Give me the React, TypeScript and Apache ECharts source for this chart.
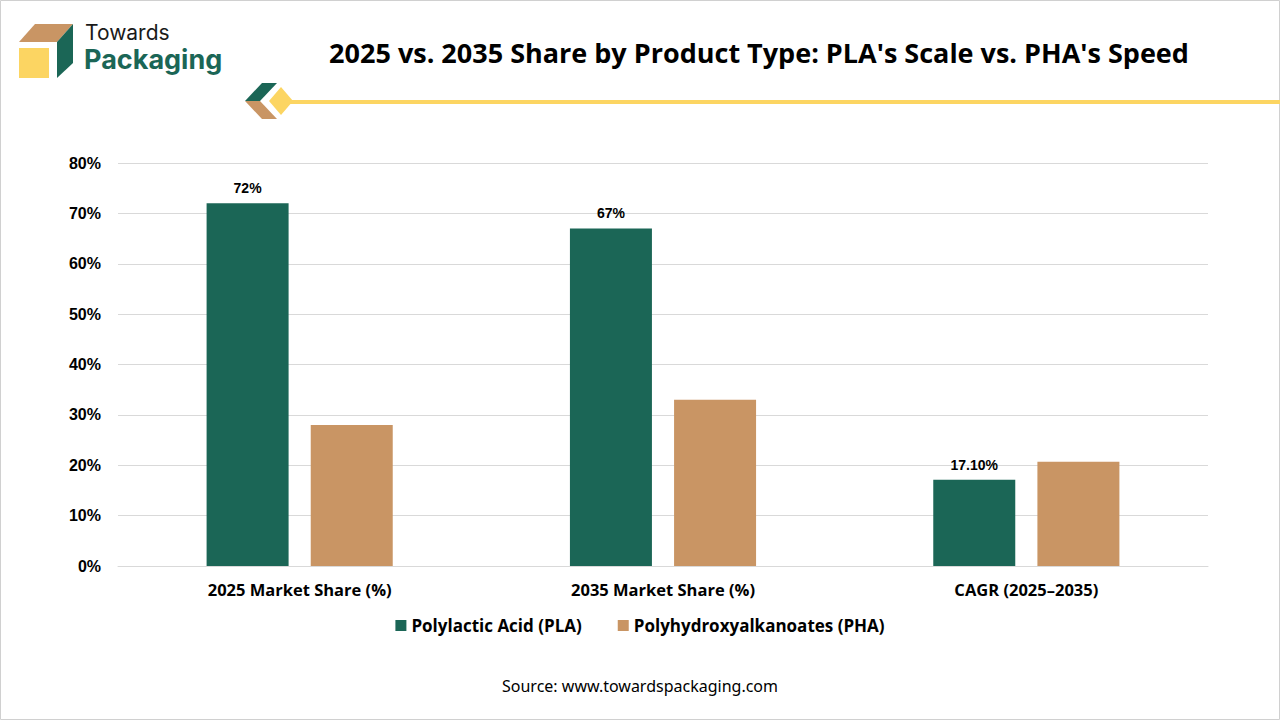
import React, { useEffect, useRef } from "react";
import * as echarts from "echarts";

const categories = ["2025 Market Share (%)", "2035 Market Share (%)", "CAGR (2025–2035)"];
const plaValues = [72, 67, 17.1];
const phaValues = [28, 33, 20.7];
const plaLabels = ["72%", "67%", "17.10%"];
const yTicks = [0, 10, 20, 30, 40, 50, 60, 70, 80];

const GREEN = "#1B6656";
const TAN = "#C99564";
const YELLOW = "#FCD562";

const App = () => {
  const chartRef = useRef<HTMLDivElement>(null);

  useEffect(() => {
    document.body.style.margin = "0";
    const chart = echarts.init(chartRef.current, null, { renderer: "svg" });

    const options = {
      animation: false,
      backgroundColor: "#ffffff",
      title: {
        text: "2025 vs. 2035 Share by Product Type: PLA's Scale vs. PHA's Speed",
        left: 754,
        top: 34,
        textAlign: "center",
        textStyle: {
          fontFamily: "Open Sans",
          fontWeight: "bold",
          fontSize: 27,
          color: "#000000",
        },
      },
      legend: {
        data: ["Polylactic Acid (PLA)", "Polyhydroxyalkanoates (PHA)"],
        left: "center",
        top: 612,
        icon: "rect",
        itemWidth: 11,
        itemHeight: 11,
        itemGap: 36,
        textStyle: {
          fontFamily: "Open Sans",
          fontWeight: "bold",
          fontSize: 17,
          color: "#000000",
        },
      },
      grid: {
        left: 118,
        right: 72,
        top: 163,
        bottom: 154,
        containLabel: false,
      },
      xAxis: {
        type: "category",
        data: categories,
        axisTick: { show: false },
        axisLine: { lineStyle: { color: "#d9d9d9", width: 1 } },
        axisLabel: {
          margin: 15,
          fontFamily: "Open Sans",
          fontWeight: "bold",
          fontSize: 16.5,
          color: "#000000",
        },
      },
      yAxis: {
        type: "value",
        min: yTicks[0],
        max: yTicks[yTicks.length - 1],
        interval: 10,
        axisLine: { show: false },
        axisTick: { show: false },
        splitLine: { lineStyle: { color: "#d9d9d9", width: 1 } },
        axisLabel: {
          margin: 17,
          formatter: "{value}%",
          fontFamily: "Liberation Sans",
          fontWeight: "bold",
          fontSize: 16,
          color: "#000000",
        },
      },
      series: [
        {
          name: "Polylactic Acid (PLA)",
          type: "bar",
          data: plaValues,
          barWidth: 82,
          barGap: "27%",
          itemStyle: { color: GREEN },
          label: {
            show: true,
            position: "top",
            distance: 8,
            formatter: (p: any) => plaLabels[p.dataIndex],
            fontFamily: "Liberation Sans",
            fontWeight: "bold",
            fontSize: 14,
            color: "#000000",
          },
        },
        {
          name: "Polyhydroxyalkanoates (PHA)",
          type: "bar",
          data: phaValues,
          barWidth: 82,
          itemStyle: { color: TAN },
        },
      ],
      graphic: [
        {
          type: "rect",
          shape: { x: 0.5, y: 0.5, width: 1279, height: 719 },
          style: { fill: "none", stroke: "#d0d0d0", lineWidth: 1 },
          silent: true,
        },
        // logo box
        {
          type: "polygon",
          shape: { points: [[19, 42], [35, 24], [73, 24], [57, 42]] },
          style: { fill: TAN },
        },
        {
          type: "polygon",
          shape: { points: [[57, 42], [73, 24], [73, 63], [57, 78]] },
          style: { fill: GREEN },
        },
        {
          type: "rect",
          shape: { x: 19, y: 48, width: 30, height: 30 },
          style: { fill: YELLOW },
        },
        {
          type: "text",
          x: 85,
          y: 32,
          style: {
            text: "Towards",
            font: "21px Inter",
            lineHeight: 21,
            fill: "#1a1a1a",
            textVerticalAlign: "middle",
          },
        },
        {
          type: "text",
          x: 84,
          y: 59,
          style: {
            text: "Packaging",
            font: "bold 27px Inter",
            lineHeight: 27,
            fill: GREEN,
            textVerticalAlign: "middle",
          },
        },
        // decoration
        {
          type: "rect",
          shape: { x: 288, y: 100, width: 992, height: 4 },
          style: { fill: YELLOW },
        },
        {
          type: "polygon",
          shape: { points: [[245, 101], [262, 83], [277, 83], [260, 101]] },
          style: { fill: GREEN },
        },
        {
          type: "polygon",
          shape: { points: [[245, 101], [260, 101], [277, 119], [262, 119]] },
          style: { fill: TAN },
        },
        {
          type: "polygon",
          shape: { points: [[269, 101], [281, 87], [293, 101], [281, 115]] },
          style: { fill: YELLOW },
        },
        {
          type: "text",
          x: 640,
          y: 686,
          style: {
            text: "Source: www.towardspackaging.com",
            font: "16px 'Noto Sans'",
            fill: "#000000",
            textAlign: "center",
            textVerticalAlign: "middle",
          },
        },
      ],
    };

    chart.setOption(options);
    return () => chart.dispose();
  }, []);

  return <div ref={chartRef} style={{ width: "1280px", height: "720px" }} />;
};

export default App;
